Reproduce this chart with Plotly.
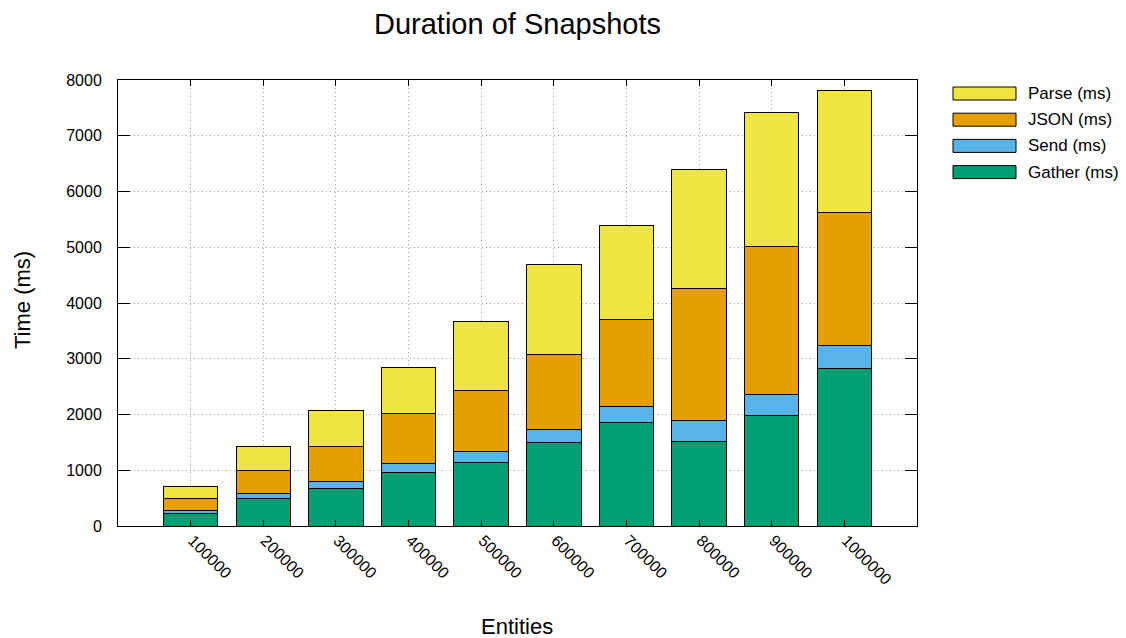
import plotly.graph_objects as go

entities = ["100000", "200000", "300000", "400000", "500000",
            "600000", "700000", "800000", "900000", "1000000"]
gather = [233, 497, 676, 956, 1148, 1494, 1848, 1519, 1985, 2834]
send = [41, 89, 131, 168, 197, 240, 287, 376, 370, 400]
json_ms = [216, 413, 628, 897, 1094, 1351, 1572, 2362, 2655, 2398]
parse = [215, 424, 628, 831, 1238, 1597, 1692, 2129, 2416, 2176]

series = [
    ("Gather (ms)", gather, "#009E73"),
    ("Send (ms)", send, "#56B4E9"),
    ("JSON (ms)", json_ms, "#E69F00"),
    ("Parse (ms)", parse, "#F0E442"),
]

FONT = "Liberation Sans, Arial, sans-serif"
OFF = 8  # page body margin
W, H = 1126 - OFF, 638 - OFF
L, R, T, B = 118 - OFF, 917 - OFF, 80 - OFF, 526 - OFF
PW, PH = R - L, B - T

def px(x):  # x in reference (screen) pixels
    return (x - OFF - L) / PW

def py(y):
    return (B - (y - OFF)) / PH

fig = go.Figure()
for name, vals, color in series:
    fig.add_trace(go.Bar(
        x=entities, y=vals, name=name,
        marker=dict(color=color, line=dict(color="black", width=1)),
        width=0.75, showlegend=False,
    ))

# custom legend (wide swatches like the reference)
legend_items = [("Parse (ms)", "#F0E442"), ("JSON (ms)", "#E69F00"),
                ("Send (ms)", "#56B4E9"), ("Gather (ms)", "#009E73")]
for i, (name, color) in enumerate(legend_items):
    yc = 93.5 + i * 26.2
    fig.add_shape(type="rect", xref="paper", yref="paper",
                  x0=px(953), x1=px(1016),
                  y0=py(yc + 6.5), y1=py(yc - 6.5),
                  fillcolor=color, line=dict(color="black", width=1))
    fig.add_annotation(xref="paper", yref="paper",
                       x=px(1026), y=py(yc),
                       text=name, showarrow=False, xanchor="left", yanchor="middle",
                       font=dict(size=17, color="black", family=FONT))

# axis titles
fig.add_annotation(xref="paper", yref="paper", x=px(517), y=py(626),
                   text="Entities", showarrow=False, xanchor="center", yanchor="middle",
                   font=dict(size=22, color="black", family=FONT))
fig.add_annotation(xref="paper", yref="paper", x=px(22), y=py(300),
                   text="Time (ms)", showarrow=False, textangle=-90,
                   xanchor="center", yanchor="middle",
                   font=dict(size=22, color="black", family=FONT))

fig.update_layout(
    barmode="stack",
    width=W, height=H,
    margin=dict(l=L, r=W - R, t=T, b=H - B, autoexpand=False),
    paper_bgcolor="white", plot_bgcolor="white",
    font=dict(family=FONT, color="black", size=16),
    title=dict(text="Duration of Snapshots", x=(L + R) / 2 / W, xanchor="center",
               y=1 - (24 - OFF) / H, yanchor="middle", font=dict(size=29)),
)
fig.update_xaxes(
    type="category", range=[-1, 10], automargin=False,
    showline=True, linecolor="black", linewidth=1, mirror="allticks",
    ticks="inside", ticklen=6, tickcolor="black",
    showgrid=True, gridcolor="#a0a0a0", griddash="1px,3px", gridwidth=1,
    tickangle=45, tickfont=dict(size=16), ticklabelstandoff=-2, ticklabelshift=2,
)
fig.update_yaxes(
    range=[0, 8000], dtick=1000, automargin=False,
    showline=True, linecolor="black", linewidth=1, mirror="allticks",
    ticks="inside", ticklen=12, tickcolor="black",
    showgrid=True, gridcolor="#a0a0a0", griddash="1px,3px", gridwidth=1,
    zeroline=False, tickfont=dict(size=16), ticklabelstandoff=12,
)

fig.write_html("out.html")
